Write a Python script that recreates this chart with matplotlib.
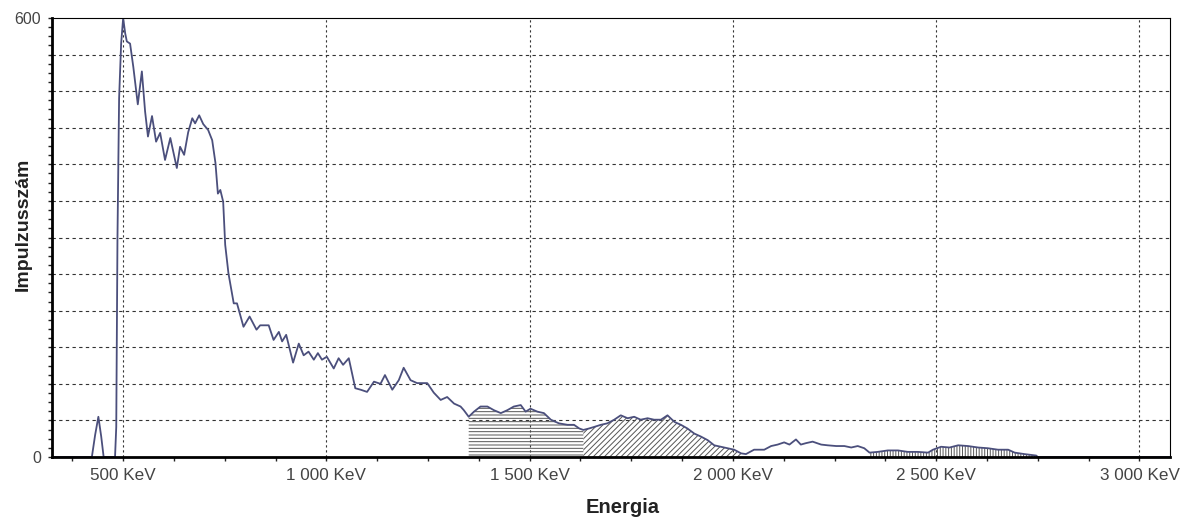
import numpy as np
from matplotlib import pyplot as plt
from matplotlib.ticker import MultipleLocator

plt.rcParams['font.family'] = ['Liberation Sans', 'DejaVu Sans']
plt.rcParams['hatch.linewidth'] = 0.7

# spectrum (keV, counts)
energy = [325, 423, 431, 439, 446, 452, 480, 483, 486, 490, 495, 500, 505, 509, 517, 525,
          536, 546, 554, 561, 571, 581, 591, 603, 616, 632, 640, 650, 660, 670, 677,
          687, 697, 709, 719, 727, 733, 739, 746, 751, 759, 772, 780, 796, 811, 828,
          837, 858, 870, 883, 891, 901, 918, 932, 944, 956, 969, 979, 989, 1001, 1018,
          1030, 1041, 1055, 1071, 1084, 1100, 1117, 1133, 1144, 1162, 1178, 1190, 1207,
          1223, 1248, 1264, 1281, 1297, 1314, 1330, 1338, 1350, 1363, 1379, 1396, 1412,
          1429, 1445, 1461, 1478, 1490, 1502, 1519, 1535, 1552, 1572, 1593, 1609, 1622,
          1632, 1646, 1658, 1675, 1691, 1708, 1724, 1741, 1757, 1773, 1790, 1806, 1823,
          1839, 1856, 1872, 1888, 1905, 1921, 1938, 1954, 1970, 1987, 2003, 2020, 2032,
          2052, 2077, 2094, 2110, 2126, 2139, 2155, 2167, 2180, 2196, 2217, 2233, 2254,
          2274, 2291, 2307, 2323, 2336, 2356, 2381, 2406, 2430, 2455, 2480, 2492, 2512,
          2533, 2554, 2578, 2603, 2627, 2652, 2677, 2693, 2717, 2746, 2750, 3075]
counts = [0, 0, 30, 55, 28, 0, 0, 41, 300, 490, 565, 600, 579, 568, 565, 533,
          482, 527, 472, 438, 466, 431, 443, 406, 436, 395, 424, 413, 444, 463, 456,
          467, 455, 447, 433, 402, 360, 365, 349, 290, 251, 210, 210, 178, 192, 174,
          180, 180, 160, 171, 158, 167, 129, 155, 139, 144, 133, 142, 133, 137, 121,
          135, 126, 135, 94, 92, 89, 103, 100, 112, 92, 105, 122, 105,
          101, 101, 88, 78, 82, 73, 69, 64, 55, 62, 69, 69, 64,
          60, 64, 69, 71, 62, 66, 62, 60, 51, 46, 44, 44, 39,
          37, 39, 41, 44, 46, 51, 57, 53, 55, 51, 53, 51, 51,
          57, 48, 44, 39, 32, 28, 23, 16, 14, 12, 10, 5, 4,
          10, 10, 15, 17, 20, 17, 24, 17, 19, 21, 17, 16, 15,
          15, 13, 15, 12, 6, 7, 9, 9, 7, 7, 6, 10, 14,
          13, 16, 15, 13, 12, 10, 10, 6, 4, 2, 0, 0]

# marked regions (keV) and their hatch
regions = [(1350, 1632, '-----'), (1632, 2020, '//////'), (2336, 2750, '||||||')]

xticks = [500, 1000, 1500, 2000, 2500, 3000]
xlabels = ['500 KeV', '1 000 KeV', '1 500 KeV', '2 000 KeV', '2 500 KeV', '3 000 KeV']

e = np.array(energy)
c = np.array(counts)

fig = plt.figure(figsize=(11.85, 5.22), dpi=100)
ax = fig.add_axes([0.0439, 0.1245, 0.9434, 0.841])

for lo, hi, h in regions:
    m = (e >= lo) & (e <= hi)
    ax.fill_between(e[m], c[m], 0, facecolor='none', edgecolor='#555555',
                    hatch=h, linewidth=0)

ax.plot(e, c, color='#4b4f7c', linewidth=1.3)

ax.set_xlim(325, 3075)
ax.set_ylim(0, 600)
ax.set_xticks(xticks)
ax.set_xticklabels(xlabels, fontsize=12.3, color='#444444')
ax.xaxis.set_minor_locator(MultipleLocator(125))
ax.set_yticks([0, 600])
ax.set_yticklabels(['0', '600'], fontsize=11.5, color='#444444')
ax.yaxis.set_minor_locator(MultipleLocator(12.5))
ax.tick_params(axis='both', which='both', direction='out', length=3, width=1, color='#222222')
ax.tick_params(axis='x', pad=5)
ax.tick_params(axis='y', pad=5)

for yy in range(50, 600, 50):
    ax.axhline(yy, color='#333333', linestyle=(0, (3, 3)), linewidth=0.8, zorder=0)
for xx in xticks:
    ax.axvline(xx, color='#333333', linestyle=(0, (2, 2.5)), linewidth=0.8, zorder=0)

ax.spines['left'].set_linewidth(2)
ax.spines['bottom'].set_linewidth(2)
ax.spines['top'].set_linewidth(0.8)
ax.spines['right'].set_linewidth(0.8)

ax.set_xlabel('Energia', fontsize=14.5, fontweight='bold', color='#222222')
ax.xaxis.set_label_coords(0.51, -0.093)
ax.set_ylabel('Impulzusszám', fontsize=14, fontweight='bold', color='#222222')
ax.yaxis.set_label_coords(-0.018, 0.53)

fig.savefig('out.png', dpi=100)
